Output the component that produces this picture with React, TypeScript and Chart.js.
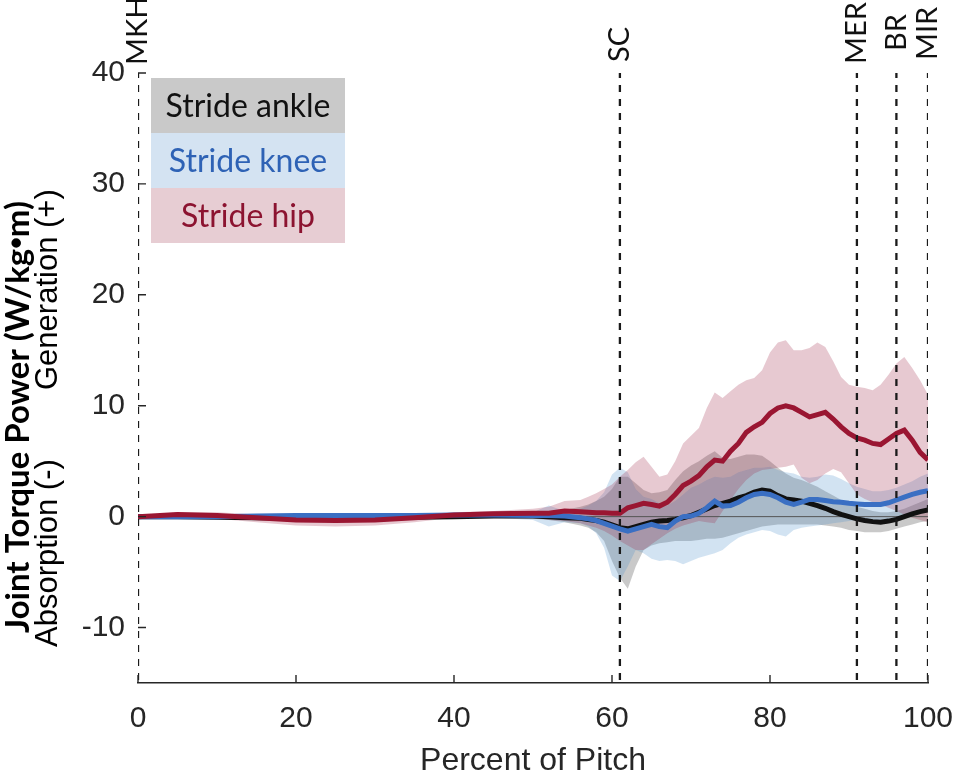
import React, { useEffect, useRef } from 'react';
import { Chart, registerables } from 'chart.js';

Chart.register(...registerables);

// percent of pitch (coarse early, 1% steps after 56)
const pct = [0, 5, 10, 15, 20, 25, 30, 35, 40, 45, 50, 52, 54, 56, 57, 58, 59, 60, 61, 62, 63, 64, 65, 66, 67, 68, 69, 70, 71, 72, 73, 74, 75, 76, 77, 78, 79, 80, 81, 82, 83, 84, 85, 86, 87, 88, 89, 90, 91, 92, 93, 94, 95, 96, 97, 98, 99, 100];

const hipMean = [0, 0.2, 0.1, -0.1, -0.3, -0.35, -0.3, -0.1, 0.15, 0.25, 0.3, 0.3, 0.5, 0.45, 0.4, 0.35, 0.35, 0.3, 0.3, 0.8, 1.0, 1.2, 1.1, 0.95, 1.3, 2.0, 2.8, 3.2, 3.7, 4.5, 5.1, 5.0, 5.9, 6.6, 7.6, 8.1, 8.5, 9.3, 9.8, 10.0, 9.8, 9.4, 9.0, 9.2, 9.4, 8.8, 8.1, 7.5, 7.1, 6.9, 6.6, 6.5, 7.0, 7.5, 7.8, 6.9, 5.8, 5.1];
const hipUpper = [0.1, 0.4, 0.4, 0.2, 0.1, 0.05, 0.1, 0.2, 0.4, 0.5, 0.7, 0.9, 1.4, 1.5, 1.8, 2.1, 2.5, 2.9, 3.6, 4.2, 4.9, 5.4, 4.5, 3.6, 3.8, 5.0, 6.6, 7.3, 8.0, 9.8, 11.2, 10.7, 11.3, 11.9, 12.3, 12.5, 13.2, 14.8, 15.7, 15.9, 15.0, 15.0, 15.2, 15.7, 15.3, 14.0, 12.6, 11.9, 11.7, 11.6, 11.4, 11.9, 12.8, 13.8, 14.4, 13.4, 12.3, 11.0];
const hipLower = [-0.1, 0, -0.2, -0.5, -0.8, -0.9, -0.8, -0.5, -0.1, 0, -0.1, -0.3, -0.4, -0.6, -0.8, -1.0, -1.3, -1.7, -2.2, -2.6, -3.0, -3.0, -2.5, -2.0, -1.5, -1.1, -0.8, -0.6, -0.4, -0.5, -0.6, 0.5, 1.5, 2.5, 3.3, 3.9, 4.2, 4.3, 4.4, 4.5, 4.7, 3.5, 3.0, 3.3, 3.9, 4.3, 4.0, 3.0, 2.0, 1.6, 1.3, 1.1, 0.8, 0.5, 0.2, -0.1, -0.3, -0.5];

const kneeMean = [0, 0, 0, 0.05, 0.1, 0.1, 0.1, 0.1, 0.15, 0.15, 0.1, 0.1, 0.05, -0.1, -0.2, -0.35, -0.6, -0.85, -1.1, -1.3, -1.1, -0.9, -0.7, -0.9, -1.0, -0.4, 0, 0.05, 0.3, 0.8, 1.4, 0.95, 1.0, 1.3, 1.7, 2.0, 2.1, 2.0, 1.7, 1.3, 1.1, 1.3, 1.55, 1.55, 1.45, 1.35, 1.3, 1.2, 1.15, 1.1, 1.1, 1.1, 1.25, 1.5, 1.75, 2.0, 2.2, 2.35];
const kneeUpper = [0.05, 0.1, 0.1, 0.15, 0.2, 0.2, 0.2, 0.25, 0.3, 0.3, 0.4, 1.0, 0.5, 0.7, 1.0, 1.4, 2.2, 3.8, 4.4, 4.0, 2.5, 1.8, 1.6, 1.2, 1.0, 1.4, 2.0, 2.6, 2.9, 3.3, 3.6, 3.5, 3.6, 4.0, 4.2, 4.4, 4.4, 4.5, 4.2, 4.0, 3.9, 3.6, 3.5, 3.6, 3.8, 3.7, 3.4, 3.0, 2.7, 2.5, 2.3, 2.3, 2.4, 2.6, 2.9, 3.2, 3.6, 3.9];
const kneeLower = [-0.05, -0.05, -0.05, -0.05, 0, 0, 0, 0, 0, -0.1, -0.3, -0.9, -0.5, -0.6, -0.9, -1.5, -2.8, -5.3, -5.8, -4.5, -3.0, -3.3, -3.8, -4.0, -3.9, -4.0, -4.3, -4.0, -3.7, -3.5, -3.3, -3.0, -2.4, -1.9, -1.6, -1.4, -1.2, -1.3, -1.6, -1.8, -1.2, -1.0, -0.9, -0.8, -0.7, -0.6, -0.5, -0.4, -0.3, -0.3, -0.3, -0.3, -0.2, -0.1, 0, 0.3, 0.6, 0.8];

const ankleMean = [0, 0, -0.05, -0.1, -0.15, -0.15, -0.1, -0.05, 0, 0.05, 0.05, 0, -0.1, -0.15, -0.25, -0.35, -0.5, -0.75, -1.0, -1.1, -0.9, -0.7, -0.5, -0.4, -0.35, -0.25, -0.1, 0.1, 0.4, 0.7, 1.0, 1.2, 1.4, 1.7, 1.9, 2.2, 2.4, 2.3, 1.9, 1.6, 1.5, 1.4, 1.2, 1.0, 0.75, 0.45, 0.2, 0, -0.2, -0.35, -0.45, -0.5, -0.4, -0.25, 0, 0.25, 0.45, 0.6];
const ankleUpper = [0.05, 0.05, 0.05, 0.05, 0.05, 0.05, 0.05, 0.1, 0.15, 0.2, 0.3, 0.4, 0.6, 0.9, 1.1, 1.4, 1.8, 2.5, 3.6, 3.6, 3.0, 2.4, 2.1, 2.2, 2.4, 3.3, 4.1, 4.6, 5.0, 5.5, 5.9, 5.3, 5.2, 5.4, 5.6, 5.6, 5.5, 5.0, 4.4, 3.9, 3.5, 3.3, 3.0, 2.7, 2.3, 1.9, 1.5, 1.2, 0.9, 0.7, 0.5, 0.4, 0.4, 0.5, 0.7, 1.0, 1.3, 1.6];
const ankleLower = [-0.05, -0.05, -0.1, -0.2, -0.3, -0.3, -0.25, -0.15, -0.1, -0.1, -0.2, -0.3, -0.5, -0.8, -1.0, -1.4, -2.2, -4.0, -5.5, -6.5, -4.5, -3.0, -2.6, -2.4, -2.3, -2.2, -2.2, -2.2, -2.1, -2.0, -2.0, -1.9, -1.7, -1.5, -1.3, -1.1, -0.9, -0.8, -0.7, -0.7, -0.7, -0.7, -0.7, -0.7, -0.8, -0.9, -1.0, -1.2, -1.3, -1.4, -1.4, -1.4, -1.3, -1.1, -0.9, -0.7, -0.5, -0.4];

const xTicks = [0, 20, 40, 60, 80, 100];
const yTicks = [-10, 0, 10, 20, 30, 40];
const eventX = [0, 61, 91, 96, 100];
const eventNames = ['MKH', 'SC', 'MER', 'BR', 'MIR'];
const legendNames = ['Stride ankle', 'Stride knee', 'Stride hip'];

const AXIS = '#262626';
const ARIAL = '"Liberation Sans", Arial, sans-serif';
const CAL = 'Lato, "Open Sans", sans-serif';

const legendFill = ['#c9c9c9', '#d4e3f2', '#e7cdd3'];
const legendText = ['#111111', '#2e62b5', '#8c1330'];
// bottom edge (px) of each rotated event label
const labelBottom: Record<string, number> = { MKH: 65, SC: 62, MER: 64, BR: 51, MIR: 60 };

const pts = (ys: number[]) => pct.map((x, i) => ({ x, y: ys[i] }));

const rotatedText = (ctx: any, x: number, y: number, parts: [string, string][]) => {
  ctx.save();
  ctx.translate(x, y);
  ctx.rotate(-Math.PI / 2);
  let off = 0;
  parts.forEach(([txt, font]) => {
    ctx.font = font;
    ctx.fillText(txt, off, 0);
    off += ctx.measureText(txt).width;
  });
  ctx.restore();
};

const decor = {
  id: 'decor',
  afterDraw(chart: any) {
    const { ctx, chartArea } = chart;
    const xs = chart.scales.x;
    const ys = chart.scales.y;
    ctx.save();

    // inward tick marks
    ctx.strokeStyle = AXIS;
    ctx.lineWidth = 1.4;
    ctx.beginPath();
    yTicks.forEach((v) => {
      const y = ys.getPixelForValue(v);
      ctx.moveTo(chartArea.left, y);
      ctx.lineTo(chartArea.left + 8, y);
    });
    xTicks.forEach((v) => {
      const x = xs.getPixelForValue(v);
      ctx.moveTo(x, chartArea.bottom);
      ctx.lineTo(x, chartArea.bottom - 8);
    });
    ctx.stroke();

    // legend box
    const lx = 151, lw = 194, ly = 78, rh = 55;
    legendNames.forEach((name, i) => {
      ctx.fillStyle = legendFill[i];
      ctx.fillRect(lx, ly + i * rh, lw, rh);
      ctx.fillStyle = legendText[i];
      ctx.font = `32px ${CAL}`;
      ctx.textAlign = 'center';
      ctx.textBaseline = 'middle';
      ctx.fillText(name, lx + lw / 2, ly + i * rh + rh / 2 + 1);
    });

    // event labels
    ctx.fillStyle = '#111111';
    ctx.font = `29px ${CAL}`;
    ctx.textAlign = 'left';
    ctx.textBaseline = 'middle';
    eventNames.forEach((name, i) => {
      const x = xs.getPixelForValue(eventX[i]);
      ctx.save();
      ctx.translate(x, labelBottom[name]);
      ctx.rotate(-Math.PI / 2);
      ctx.fillText(name, 0, 0);
      ctx.restore();
    });

    // y axis titles
    ctx.fillStyle = '#000000';
    const bold = `bold 33px ${CAL}`;
    rotatedText(ctx, 18, 633, [
      ['Joint Torque Power (W/kg', bold],
      ['\u2022', `bold 33px ${ARIAL}`],
      ['m)', bold],
    ]);
    rotatedText(ctx, 48, 647, [['Absorption (-)', `31px ${ARIAL}`]]);
    rotatedText(ctx, 48, 390, [['Generation (+)', `31px ${ARIAL}`]]);

    ctx.restore();
  },
};

export default function App() {
  const ref = useRef<HTMLCanvasElement | null>(null);

  useEffect(() => {
    if (!ref.current) return;
    const ctx = ref.current.getContext('2d');
    if (!ctx) return;

    const band = (ys: number[], color: string, fill: any) => ({
      data: pts(ys),
      borderWidth: 0,
      borderColor: 'transparent',
      backgroundColor: color,
      fill,
    });

    const mean = (ys: number[], color: string) => ({
      data: pts(ys),
      borderColor: color,
      borderWidth: 5,
      fill: false,
    });

    const events = eventX.map((e) => ({
      data: [{ x: e, y: 40 }, { x: e, y: -15 }],
      borderColor: '#1a1a1a',
      borderWidth: 2.3,
      borderDash: [7, 7],
      borderDashOffset: 2,
      fill: false,
    }));

    // listed top-most first
    const datasets: any[] = [
      ...events,
      mean(hipMean, '#9a1632'),
      mean(kneeMean, '#3a6fc3'),
      mean(ankleMean, '#111111'),
      { data: [{ x: 0, y: 0 }, { x: 100, y: 0 }], borderColor: '#555555', borderWidth: 1, fill: false },
      band(hipUpper, 'rgba(160, 40, 70, 0.25)', '+1'),
      band(hipLower, 'transparent', false),
      band(kneeUpper, 'rgba(75, 145, 205, 0.25)', '+1'),
      band(kneeLower, 'transparent', false),
      band(ankleUpper, 'rgba(105, 105, 105, 0.36)', '+1'),
      band(ankleLower, 'transparent', false),
    ];

    const chart = new Chart(ctx, {
      type: 'line',
      data: { datasets },
      plugins: [decor],
      options: {
        animation: false,
        responsive: true,
        maintainAspectRatio: false,
        layout: { padding: { left: 0, right: 29, top: 73, bottom: 0 } },
        elements: { point: { radius: 0 }, line: { tension: 0 } },
        plugins: { legend: { display: false }, tooltip: { enabled: false } },
        scales: {
          x: {
            type: 'linear',
            min: 0,
            max: 100,
            afterFit: (s: any) => { s.height = 94; s.paddingLeft = 0; s.paddingRight = 0; },
            afterBuildTicks: (s: any) => { s.ticks = xTicks.map((value) => ({ value })); },
            grid: { display: false, drawTicks: false },
            border: { display: true, color: AXIS, width: 1.5 },
            ticks: { color: AXIS, font: { family: ARIAL, size: 30 }, padding: 18, maxRotation: 0, autoSkip: false },
            title: { display: true, text: 'Percent of Pitch', color: AXIS, font: { family: ARIAL, size: 32, lineHeight: 1 }, padding: 0 },
          },
          y: {
            type: 'linear',
            min: -15,
            max: 40,
            afterFit: (s: any) => { s.width = 138; s.paddingTop = 0; s.paddingBottom = 0; },
            afterBuildTicks: (s: any) => { s.ticks = yTicks.map((value) => ({ value })); },
            grid: { display: false, drawTicks: false },
            border: { display: false },
            ticks: { color: AXIS, font: { family: ARIAL, size: 30 }, padding: 13 },
          },
        },
      } as any,
    });

    return () => chart.destroy();
  }, []);

  return (
    <div style={{ position: 'fixed', left: 0, top: 0, width: 957, height: 777, background: '#fff' }}>
      <canvas ref={ref} />
    </div>
  );
}
